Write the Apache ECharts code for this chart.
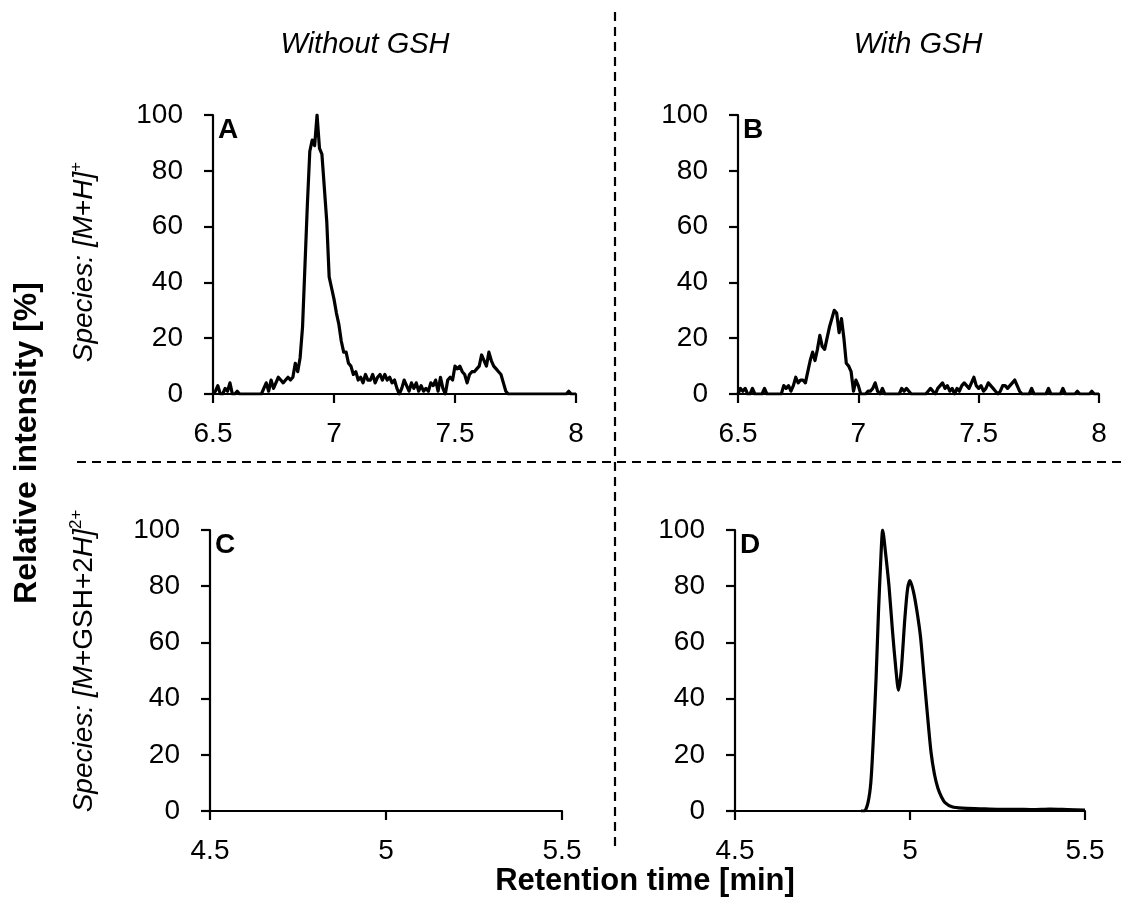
<!DOCTYPE html>
<html>
<head>
<meta charset="utf-8">
<script src="https://cdn.jsdelivr.net/npm/echarts@6/dist/echarts.min.js"></script>
<style>
  html, body { margin: 0; padding: 0; background: #ffffff; }
  #chart { width: 1122px; height: 897px; }
</style>
</head>
<body>
<div id="chart"></div>
<script>
// Extracted ion chromatograms, relative intensity (%) vs retention time (min)

// Panels A and B share one sampling grid: 6.50 ... 8.00 min, every 0.01 min
const gridStartAB = 6.5;
const gridStepAB = 0.01;

// A: [M+H]+ without GSH
const intensityA = [
  0, 1, 3, 0, 0, 2, 1, 4, 0, 0,
  1, 0, 0, 0, 0, 0, 0, 0, 0, 0,
  0, 2, 4, 1, 5, 2, 4, 6, 5, 4,
  5, 6, 5, 6, 11, 8, 13, 24, 46, 68,
  87, 91, 89, 100, 88, 86, 74, 62, 42, 38,
  34, 29, 25, 19, 15, 15, 11, 10, 7, 8,
  5, 6, 4, 7, 5, 5, 7, 4, 6, 7,
  5, 7, 5, 6, 4, 5, 2, 0, 2, 5,
  3, 1, 4, 2, 4, 1, 3, 1, 2, 1,
  4, 3, 5, 1, 6, 2, 0, 5, 6, 5,
  10, 9, 10, 8, 7, 4, 7, 8, 8, 9,
  10, 14, 12, 10, 15, 12, 10, 9, 8, 7,
  4, 1, 0, 0, 0, 0, 0, 0, 0, 0,
  0, 0, 0, 0, 0, 0, 0, 0, 0, 0,
  0, 0, 0, 0, 0, 0, 0, 1, 0, 0,
  0
];

// B: [M+H]+ with GSH
const intensityB = [
  0, 2, 1, 2, 0, 0, 2, 0, 0, 0,
  0, 2, 0, 0, 0, 0, 0, 0, 0, 3,
  2, 3, 1, 3, 6, 4, 5, 5, 4, 8,
  12, 15, 12, 16, 21, 17, 16, 20, 24, 27,
  30, 29, 22, 27, 20, 11, 10, 8, 1, 5,
  3, 0, 0, 0, 1, 1, 2, 4, 1, 0,
  2, 0, 0, 0, 0, 0, 0, 0, 2, 1,
  2, 1, 0, 0, 0, 0, 0, 0, 0, 1,
  2, 1, 0, 2, 3, 4, 2, 3, 1, 2,
  0, 2, 1, 3, 4, 3, 2, 4, 6, 3,
  2, 3, 1, 2, 4, 3, 2, 1, 0, 1,
  3, 3, 2, 3, 4, 5, 3, 1, 0, 0,
  0, 0, 2, 0, 0, 0, 0, 0, 0, 2,
  0, 0, 0, 0, 0, 2, 0, 0, 0, 0,
  0, 1, 0, 0, 0, 0, 0, 1, 0, 0,
  0
];

// D: [M+GSH+2H]2+ with GSH (C has no signal)
const timeD = [4.86, 4.87, 4.88, 4.888, 4.895, 4.903, 4.91, 4.916, 4.922, 4.93,
  4.94, 4.95, 4.96, 4.967, 4.975, 4.985, 4.993, 5.00, 5.01, 5.02,
  5.03, 5.04, 5.05, 5.06, 5.07, 5.08, 5.09, 5.10, 5.12, 5.15,
  5.20, 5.25, 5.30, 5.35, 5.40, 5.45, 5.50];
const intensityD = [0, 0, 3, 10, 25, 47, 71, 88, 100, 92,
  80, 64, 50, 43, 50, 68, 79, 82, 78, 71,
  62, 48, 34, 21, 13, 8, 5, 3, 1.5, 1,
  0.8, 0.6, 0.6, 0.5, 0.7, 0.5, 0.3];

// Axis ranges and labels
const xRangeAB = [6.5, 8];
const xRangeCD = [4.5, 5.5];
const yRange = [0, 100];
const panelLetters = ['A', 'B', 'C', 'D'];
const columnTitles = ['Without GSH', 'With GSH'];

const FONT = "'Liberation Sans', Arial, sans-serif";

function gridPairs(start, step, values) {
  return values.map((v, i) => [+(start + i * step).toFixed(4), v]);
}

const grids = [
  { left: 213, top: 115, width: 363, height: 279 },
  { left: 738, top: 115, width: 361, height: 279 },
  { left: 210, top: 530, width: 352, height: 281 },
  { left: 735, top: 530, width: 350, height: 281 }
];

const axisLineStyle = { color: '#000', width: 2.2 };

function xAxis(i, range) {
  return {
    type: 'value', gridIndex: i, min: range[0], max: range[1], interval: 0.5,
    axisLine: { show: true, onZero: false, lineStyle: axisLineStyle },
    axisTick: { show: true, length: 9, lineStyle: axisLineStyle },
    axisLabel: { color: '#000', fontSize: 28, fontFamily: FONT, margin: 26 },
    splitLine: { show: false }
  };
}
function yAxis(i) {
  return {
    type: 'value', gridIndex: i, min: yRange[0], max: yRange[1], interval: 20,
    axisLine: { show: true, lineStyle: axisLineStyle },
    axisTick: { show: true, length: 9, lineStyle: axisLineStyle },
    axisLabel: { color: '#000', fontSize: 28, fontFamily: FONT, margin: 30 },
    splitLine: { show: false }
  };
}

function trace(i, data, smooth) {
  return {
    type: 'line', xAxisIndex: i, yAxisIndex: i, data: data,
    showSymbol: false, symbol: 'none', silent: true, smooth: smooth,
    lineStyle: { color: '#000', width: 3.2, join: 'round' },
    z: 3
  };
}

const pd = (Math.PI / 2);
const dash = { stroke: '#000', lineWidth: 2.2, lineDash: [9, 6] };

const speciesRich = {
  i: { fontFamily: FONT, fontSize: 28, fontStyle: 'italic', lineHeight: 32 },
  n: { fontFamily: FONT, fontSize: 28, lineHeight: 32 },
  s: { fontFamily: FONT, fontSize: 17, lineHeight: 17, verticalAlign: 'top' }
};

const graphics = [
  { type: 'line', shape: { x1: 77, y1: 462, x2: 1122, y2: 462 }, style: dash, silent: true },
  { type: 'line', shape: { x1: 615, y1: 12, x2: 615, y2: 852 }, style: dash, silent: true },
  { type: 'text', x: 365, y: 45, style: { text: columnTitles[0], font: 'italic 29px ' + FONT, fill: '#000', align: 'center', verticalAlign: 'middle' } },
  { type: 'text', x: 918, y: 45, style: { text: columnTitles[1], font: 'italic 29px ' + FONT, fill: '#000', align: 'center', verticalAlign: 'middle' } },
  { type: 'text', x: 27, y: 443, rotation: pd, style: { text: 'Relative intensity [%]', font: 'bold 32px ' + FONT, fill: '#000', align: 'center', verticalAlign: 'middle' } },
  { type: 'text', x: 645, y: 881, style: { text: 'Retention time [min]', font: 'bold 31px ' + FONT, fill: '#000', align: 'center', verticalAlign: 'middle' } },
  {
    type: 'text', x: 84, y: 262, rotation: pd,
    style: { text: '{i|Species: [M}{n|+}{i|H]}{s|+}', align: 'center', verticalAlign: 'middle', fill: '#000', rich: speciesRich }
  },
  {
    type: 'text', x: 84, y: 661, rotation: pd,
    style: { text: '{i|Species: [M}{n|+GSH+2}{i|H]}{s|2+}', align: 'center', verticalAlign: 'middle', fill: '#000', rich: speciesRich }
  }
];

// panel letters sit just inside the top-left corner of each plot
grids.forEach((g, i) => {
  graphics.push({
    type: 'text', x: g.left + 5, y: g.top + 1,
    style: { text: panelLetters[i], font: 'bold 28px ' + FONT, fill: '#000', align: 'left', verticalAlign: 'top' }
  });
});

const option = {
  backgroundColor: '#ffffff',
  animation: false,
  grid: grids,
  xAxis: [xAxis(0, xRangeAB), xAxis(1, xRangeAB), xAxis(2, xRangeCD), xAxis(3, xRangeCD)],
  yAxis: [yAxis(0), yAxis(1), yAxis(2), yAxis(3)],
  series: [
    trace(0, gridPairs(gridStartAB, gridStepAB, intensityA), false),
    trace(1, gridPairs(gridStartAB, gridStepAB, intensityB), false),
    trace(3, timeD.map((t, k) => [t, intensityD[k]]), 0.25)
  ],
  graphic: graphics
};

const chart = echarts.init(document.getElementById('chart'), null, { renderer: 'canvas' });
chart.setOption(option);
</script>
</body>
</html>
